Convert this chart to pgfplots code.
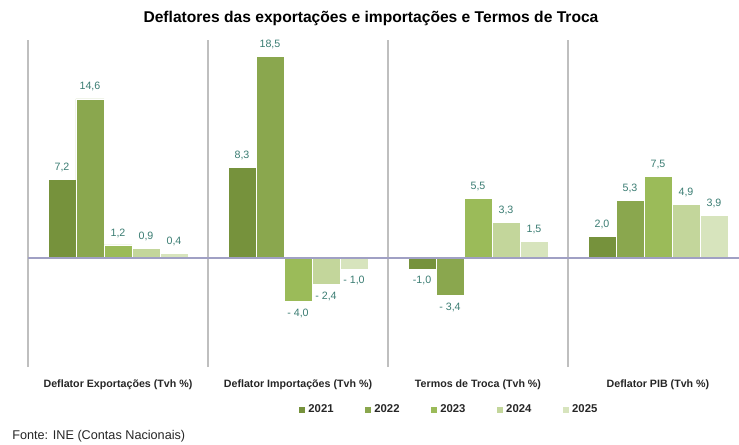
\documentclass[border=0pt]{standalone}
\usepackage{pgfplots}
\pgfplotsset{compat=1.18}
\usepackage{fontspec}
\setmainfont{Liberation Sans}
\definecolor{c21}{HTML}{76923C}
\definecolor{c22}{HTML}{8AA74E}
\definecolor{c23}{HTML}{9BBB59}
\definecolor{c24}{HTML}{C3D69B}
\definecolor{c25}{HTML}{D7E4BD}
\definecolor{labcol}{HTML}{3A7C72}
\definecolor{sepcol}{HTML}{BFBFBF}
\definecolor{zerocol}{HTML}{A0A0C4}
\definecolor{txt}{HTML}{262626}
\begin{document}
\begin{tikzpicture}
\begin{axis}[
  at={(21pt,57.75pt)}, anchor=south west,
  width=540pt, height=245.25pt, scale only axis,
  xmin=-0.5, xmax=3.5, ymin=-10, ymax=20,
  axis line style={draw=none},
  ytick=\empty,
  xtick={0,1,2,3},
  xticklabels={Deflator Exportações (Tvh \%),Deflator Importações (Tvh \%),Termos de Troca (Tvh \%),Deflator PIB (Tvh \%)},
  major tick length=0pt,
  xticklabel style={font=\fontsize{8}{9}\selectfont\bfseries, text=txt, yshift=-6pt},
  clip=false,
  ybar, bar width=0.155556,
  point meta=explicit symbolic,
  visualization depends on={rawy \as \rawy},
  nodes near coords={\pgfplotspointmeta},
  every node near coord/.append style={font=\fontsize{8}{9}\selectfont, text=labcol, inner ysep=5.5pt, inner xsep=1pt,
    /utils/exec={\ifdim\rawy pt<0pt \gdef\myanch{north}\else\gdef\myanch{south}\fi},
    anchor=\myanch},
  legend columns=5,
  legend style={at={(0.585,-0.1315)}, anchor=center, draw=none, fill=none,
    font=\fontsize{8.5}{10}\selectfont\bfseries, text=txt,
    /tikz/every even column/.append style={column sep=21pt}},
  legend image code/.code={\fill[#1] (0pt,-2.6pt) rectangle (5.25pt,2.6pt);},
]
\draw[sepcol, line width=1.5pt] (axis cs:-0.5,-10) -- (axis cs:-0.5,20);
\draw[sepcol, line width=1.5pt] (axis cs:0.5,-10) -- (axis cs:0.5,20);
\draw[sepcol, line width=1.5pt] (axis cs:1.5,-10) -- (axis cs:1.5,20);
\draw[sepcol, line width=1.5pt] (axis cs:2.5,-10) -- (axis cs:2.5,20);
\draw[sepcol, line width=1.5pt] (axis cs:3.5,-10) -- (axis cs:3.5,20);
\addplot[fill=c21, draw=white, line width=0.3pt, bar shift=-0.311111] coordinates {(0,7.2) [{7,2}] (1,8.3) [{8,3}] (2,-1.0) [{-1,0}] (3,2.0) [{2,0}]};
\addplot[fill=c22, draw=white, line width=0.3pt, bar shift=-0.155556] coordinates {(0,14.6) [{14,6}] (1,18.5) [{18,5}] (2,-3.4) [{- 3,4}] (3,5.3) [{5,3}]};
\addplot[fill=c23, draw=white, line width=0.3pt, bar shift=0] coordinates {(0,1.2) [{1,2}] (1,-4.0) [{- 4,0}] (2,5.5) [{5,5}] (3,7.5) [{7,5}]};
\addplot[fill=c24, draw=white, line width=0.3pt, bar shift=0.155556] coordinates {(0,0.9) [{0,9}] (1,-2.4) [{- 2,4}] (2,3.3) [{3,3}] (3,4.9) [{4,9}]};
\addplot[fill=c25, draw=white, line width=0.3pt, bar shift=0.311111] coordinates {(0,0.4) [{0,4}] (1,-1.0) [{- 1,0}] (2,1.5) [{1,5}] (3,3.9) [{3,9}]};
\legend{2021,2022,2023,2024,2025}
\draw[zerocol, line width=0.8pt] (axis cs:-0.5,0) -- (axis cs:3.5,0);
\end{axis}
\node[font=\fontsize{11.7}{14}\selectfont\bfseries, text=black] at (278.25pt,319.5pt) {Deflatores das exportações e importações e Termos de Troca};
\node[font=\fontsize{9.5}{11}\selectfont, text=txt, anchor=west, inner sep=0pt] at (9pt,6pt) {Fonte: INE (Contas Nacionais)};
\pgfresetboundingbox
\path[use as bounding box] (0,0) rectangle (554.25pt,333pt);
\end{tikzpicture}
\end{document}
